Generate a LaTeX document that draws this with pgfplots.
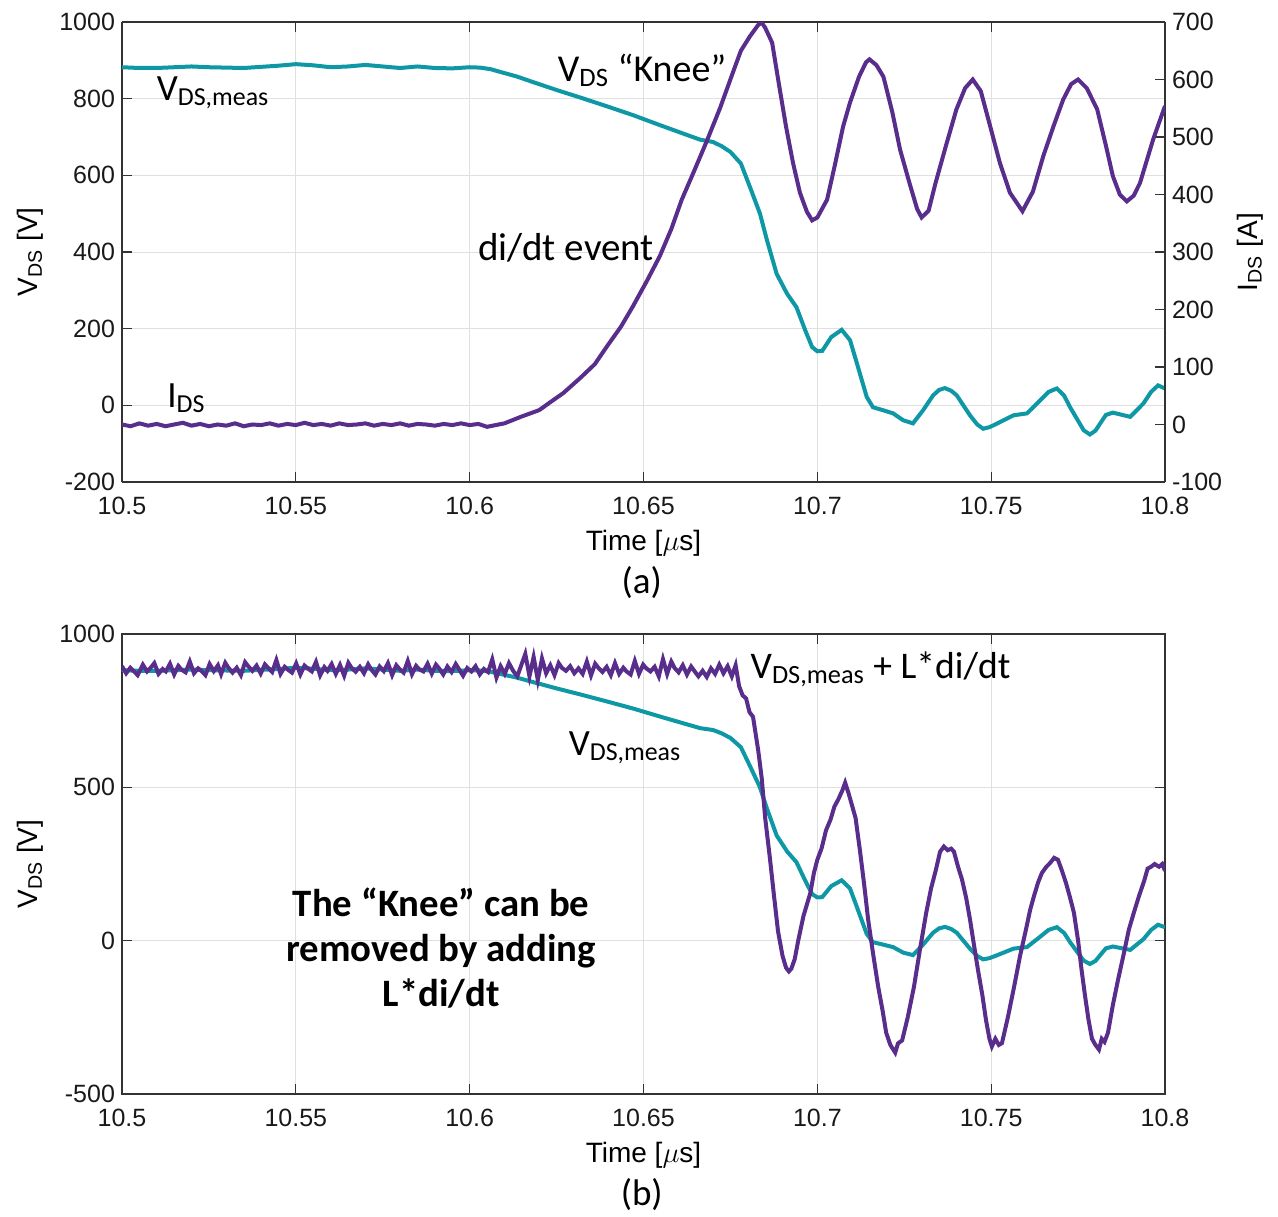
\documentclass[border=0pt]{standalone}
\usepackage{pgfplots}
\usepackage{pgfplotstable}
\pgfplotsset{compat=1.18}
\usepackage{fontspec}
\setmainfont{Liberation Sans}
\newfontfamily\calib{Carlito}
\definecolor{tealc}{RGB}{14,152,166}
\definecolor{purp}{RGB}{88,45,140}

\pgfplotstableread{
t v
10.500 882
10.505 880
10.510 880
10.515 882
10.520 884
10.525 882
10.530 881
10.535 880
10.540 883
10.545 886
10.550 890
10.555 887
10.560 882
10.565 884
10.570 888
10.575 884
10.580 880
10.585 884
10.590 880
10.595 879
10.600 882
10.603 881
10.6060 877
10.6087 870
10.6135 858
10.6183 843
10.6252 822
10.6318 803
10.6395 780
10.647 757
10.6547 731
10.6614 709
10.6663 693
10.670 687
10.6725 676
10.675 661
10.678 631
10.6806 570
10.6835 500
10.6855 431
10.6883 343
10.6913 291
10.694 256
10.6965 196
10.6985 152
10.7000 141
10.7014 142
10.704 178
10.707 197
10.7094 170
10.7114 109
10.7142 22
10.716 -5
10.719 -13
10.7218 -21
10.7247 -39
10.7275 -47
10.7304 -13
10.7333 26
10.7350 40
10.7367 45
10.7385 38
10.7401 26
10.7439 -26
10.7460 -50
10.7477 -61
10.7495 -57
10.7516 -48
10.7564 -26
10.7603 -21
10.7641 13
10.7665 35
10.7689 44
10.7710 25
10.7727 -5
10.7766 -65
10.7784 -76
10.7800 -66
10.7813 -48
10.7830 -25
10.785 -19
10.790 -30
10.7938 5
10.7960 35
10.798 52
10.800 44
}\vdsmeas

\pgfplotstableread{
t i
10.5000 0
10.5025 -3
10.5050 2
10.5075 -2
10.5100 1
10.5125 -3
10.5150 0
10.5175 3
10.5200 -2
10.5225 1
10.5250 -3
10.5275 0
10.5300 -2
10.5325 2
10.5350 -3
10.5375 0
10.5400 -1
10.5425 2
10.5450 -2
10.5475 1
10.5500 -1
10.5525 3
10.5550 -1
10.5575 1
10.5600 -2
10.5625 2
10.5650 -1
10.5675 0
10.5700 2
10.5725 -2
10.5750 1
10.5775 -1
10.5800 2
10.5825 -2
10.5850 1
10.5875 0
10.5900 -2
10.5925 1
10.5950 -1
10.5975 2
10.6000 -1
10.6025 1
10.6050 -4
10.6100 2
10.6150 14
10.6200 25
10.6230 38
10.6270 55
10.6320 82
10.6360 105
10.6395 136
10.6435 170
10.6470 206
10.6510 250
10.6547 293
10.6580 340
10.6610 391
10.6645 440
10.6680 490
10.6720 550
10.6757 612
10.6780 650
10.6806 675
10.6830 695
10.6840 699
10.6850 690
10.6870 664
10.6890 590
10.6910 518
10.6930 455
10.6950 403
10.6970 370
10.6985 355
10.7000 360
10.7028 391
10.7050 450
10.7074 518
10.7094 560
10.7120 605
10.7140 630
10.7150 635
10.7170 625
10.7190 605
10.7215 545
10.7238 478
10.7265 420
10.7287 375
10.7300 360
10.7320 372
10.7340 420
10.7370 485
10.7400 548
10.7425 585
10.7447 600
10.7470 580
10.7497 519
10.7525 455
10.7554 403
10.7590 371
10.7620 405
10.7650 467
10.7680 520
10.7707 565
10.7730 592
10.7750 600
10.7775 585
10.7805 548
10.7830 485
10.7850 432
10.7870 400
10.7890 388
10.7910 398
10.7928 420
10.7966 496
10.8000 554
}\ids

\pgfplotstableread{
t v
10.5000 895
10.5012 872
10.5024 890
10.5033 880
10.5045 866
10.5060 900
10.5072 878
10.5084 892
10.5093 905
10.5105 870
10.5117 886
10.5126 878
10.5138 903
10.5150 868
10.5162 896
10.5171 884
10.5183 875
10.5195 910
10.5207 872
10.5219 888
10.5228 880
10.5240 866
10.5252 902
10.5264 879
10.5276 898
10.5285 869
10.5297 906
10.5306 890
10.5318 874
10.5330 890
10.5342 866
10.5354 908
10.5363 895
10.5375 880
10.5387 897
10.5399 871
10.5411 901
10.5420 890
10.5432 876
10.5444 915
10.5456 870
10.5468 893
10.5477 884
10.5489 874
10.5501 904
10.5513 868
10.5525 897
10.5534 888
10.5546 878
10.5558 909
10.5570 865
10.5582 892
10.5591 880
10.5603 902
10.5615 870
10.5627 899
10.5639 864
10.5651 906
10.5660 890
10.5672 877
10.5684 893
10.5696 872
10.5708 901
10.5717 884
10.5729 868
10.5741 894
10.5753 879
10.5765 905
10.5777 866
10.5789 898
10.5798 886
10.5810 874
10.5822 912
10.5834 869
10.5846 896
10.5855 885
10.5867 878
10.5879 903
10.5891 871
10.5903 900
10.5912 888
10.5924 868
10.5936 894
10.5948 876
10.5960 902
10.5969 886
10.5981 864
10.5993 889
10.6005 878
10.6017 895
10.6029 868
10.6041 886
10.6053 876
10.6065 917
10.6077 858
10.6089 895
10.6101 870
10.6113 905
10.6125 880
10.6137 862
10.6149 900
10.6160 935
10.6172 862
10.6184 925
10.6196 850
10.6208 920
10.6220 872
10.6232 898
10.6244 866
10.6256 905
10.6265 890
10.6277 880
10.6289 895
10.6301 872
10.6313 888
10.6325 870
10.6337 910
10.6349 865
10.6361 903
10.6370 890
10.6382 876
10.6394 893
10.6406 866
10.6418 905
10.6430 870
10.6442 890
10.6451 878
10.6463 868
10.6475 912
10.6487 870
10.6499 900
10.6508 888
10.6520 878
10.6532 893
10.6544 862
10.6556 918
10.6568 870
10.6580 910
10.6589 890
10.6601 875
10.6613 898
10.6625 868
10.6637 894
10.6646 880
10.6658 862
10.6670 880
10.6682 860
10.6694 888
10.6706 870
10.6718 900
10.6730 872
10.6742 895
10.6754 862
10.6765 898
10.6775 830
10.6785 800
10.6795 790
10.6805 745
10.6815 730
10.6830 620
10.6840 530
10.6850 400
10.6864 265
10.6875 150
10.6887 30
10.6900 -50
10.6910 -88
10.6918 -100
10.6925 -92
10.6935 -60
10.6945 0
10.6960 80
10.6980 156
10.6990 220
10.7000 264
10.7012 300
10.7025 360
10.7038 395
10.7049 437
10.7060 460
10.7072 490
10.7080 515
10.7090 480
10.7100 440
10.7110 400
10.7123 290
10.7135 180
10.7146 70
10.7160 -40
10.7175 -150
10.7188 -230
10.7198 -300
10.7210 -340
10.7224 -365
10.7232 -335
10.7244 -325
10.7260 -250
10.7278 -150
10.7295 -30
10.7313 90
10.7327 170
10.7341 231
10.7353 290
10.7364 307
10.7375 295
10.7385 300
10.7393 290
10.7405 240
10.7416 200
10.7428 140
10.7439 70
10.7450 -10
10.7462 -95
10.7475 -180
10.7485 -258
10.7495 -320
10.7502 -345
10.7512 -320
10.7522 -340
10.7531 -334
10.7548 -250
10.7566 -150
10.7583 -50
10.7600 36
10.7612 100
10.7623 145
10.7635 190
10.7646 221
10.7658 240
10.7670 254
10.7681 270
10.7692 264
10.7703 230
10.7715 189
10.7727 140
10.7738 91
10.7750 0
10.7760 -95
10.7770 -180
10.7780 -258
10.7790 -320
10.7800 -340
10.7810 -355
10.7818 -320
10.7826 -330
10.7836 -300
10.7850 -210
10.7865 -127
10.7880 -50
10.7896 36
10.7910 90
10.7925 145
10.7940 195
10.7950 235
10.7960 241
10.7970 250
10.7983 241
10.7992 250
10.8000 228
}\vdsl

\pgfplotsset{
  base/.style={
    scale only axis, width=521.5pt, height=230pt,
    xmin=10.5, xmax=10.8,
    xtick={10.5,10.55,10.6,10.65,10.7,10.75,10.8},
    xticklabels={10.5,10.55,10.6,10.65,10.7,10.75,10.8},
    tick align=inside,
    major tick length=5pt,
    clip mode=individual,
    axis line style={black!80, line width=0.6pt},
    tick style={black!80, line width=0.6pt},
    grid style={black!12, line width=0.5pt},
    /pgf/number format/assume math mode=true,
    /pgf/number format/1000 sep={},
    tick label style={font=\fontsize{12.5}{15}\selectfont, text=black!90},
    label style={font=\fontsize{14}{17}\selectfont},
    xticklabel style={yshift=-4pt},
  },
}

\begin{document}
\begin{tikzpicture}
% ---- top panel ----
\begin{axis}[base, at={(0,0)}, anchor=south west,
  ymin=-200, ymax=1000, ytick={-200,0,200,400,600,800,1000},
  axis y line*=left, grid=major,
  xlabel={Time [$\mu$s]},
  xlabel style={at={(axis description cs:0.5,0)}, anchor=center, yshift=-30.5pt},
  ylabel={V\textsubscript{DS} [V]},
  ylabel style={at={(axis description cs:-0.088,0.5)}, anchor=center}]
\addplot[tealc, line width=2pt] table[x=t,y=v]{\vdsmeas};
\node[anchor=west, font=\calib\fontsize{18.5}{22}\selectfont] at (axis cs:10.5080,815) {V\textsubscript{DS,meas}};
\node[anchor=west, font=\calib\fontsize{18.5}{22}\selectfont] at (axis cs:10.5110,18) {I\textsubscript{DS}};
\node[anchor=center, font=\calib\fontsize{19.5}{23}\selectfont] at (axis cs:10.6277,412) {di/dt event};
\node[anchor=center, font=\calib\fontsize{19}{23}\selectfont] at (axis cs:10.6496,874) {V\textsubscript{DS} “Knee”};
\node[font=\calib\fontsize{18.5}{22}\selectfont] at (axis cs:10.6495,-200) [yshift=-50.5pt] {(a)};
\end{axis}
\begin{axis}[base, at={(0,0)}, anchor=south west,
  ymin=-100, ymax=700, ytick={-100,0,100,200,300,400,500,600,700},
  axis y line*=right, axis x line=none,
  ylabel={I\textsubscript{DS} [A]},
  ylabel style={at={(axis description cs:1.0815,0.5)}, anchor=center}]
\addplot[purp, line width=2pt] table[x=t,y=i]{\ids};
\end{axis}
% ---- bottom panel ----
\begin{axis}[base, at={(0,-306pt)}, anchor=south west,
  ymin=-500, ymax=1000, ytick={-500,0,500,1000},
  grid=major,
  xlabel={Time [$\mu$s]},
  xlabel style={at={(axis description cs:0.5,0)}, anchor=center, yshift=-30.5pt},
  ylabel={V\textsubscript{DS} [V]},
  ylabel style={at={(axis description cs:-0.088,0.5)}, anchor=center}]
\addplot[tealc, line width=2pt] table[x=t,y=v]{\vdsmeas};
\addplot[purp, line width=2pt] table[x=t,y=v]{\vdsl};
\node[anchor=west, font=\calib\fontsize{18.8}{22}\selectfont] at (axis cs:10.6788,884) {V\textsubscript{DS,meas} + L*di/dt};
\node[anchor=west, font=\calib\fontsize{18.5}{22}\selectfont] at (axis cs:10.6265,629) {V\textsubscript{DS,meas}};
\node[anchor=center, align=center, font=\calib\bfseries\fontsize{19.4}{22.5}\selectfont] at (axis cs:10.5918,-23) {The “Knee” can be\\removed by adding\\L*di/dt};
\node[font=\calib\fontsize{18.5}{22}\selectfont] at (axis cs:10.6495,-500) [yshift=-50.5pt] {(b)};
\end{axis}
\pgfresetboundingbox
\path[use as bounding box] (-61pt,-367pt) rectangle (578pt,241pt);
\end{tikzpicture}
\end{document}
